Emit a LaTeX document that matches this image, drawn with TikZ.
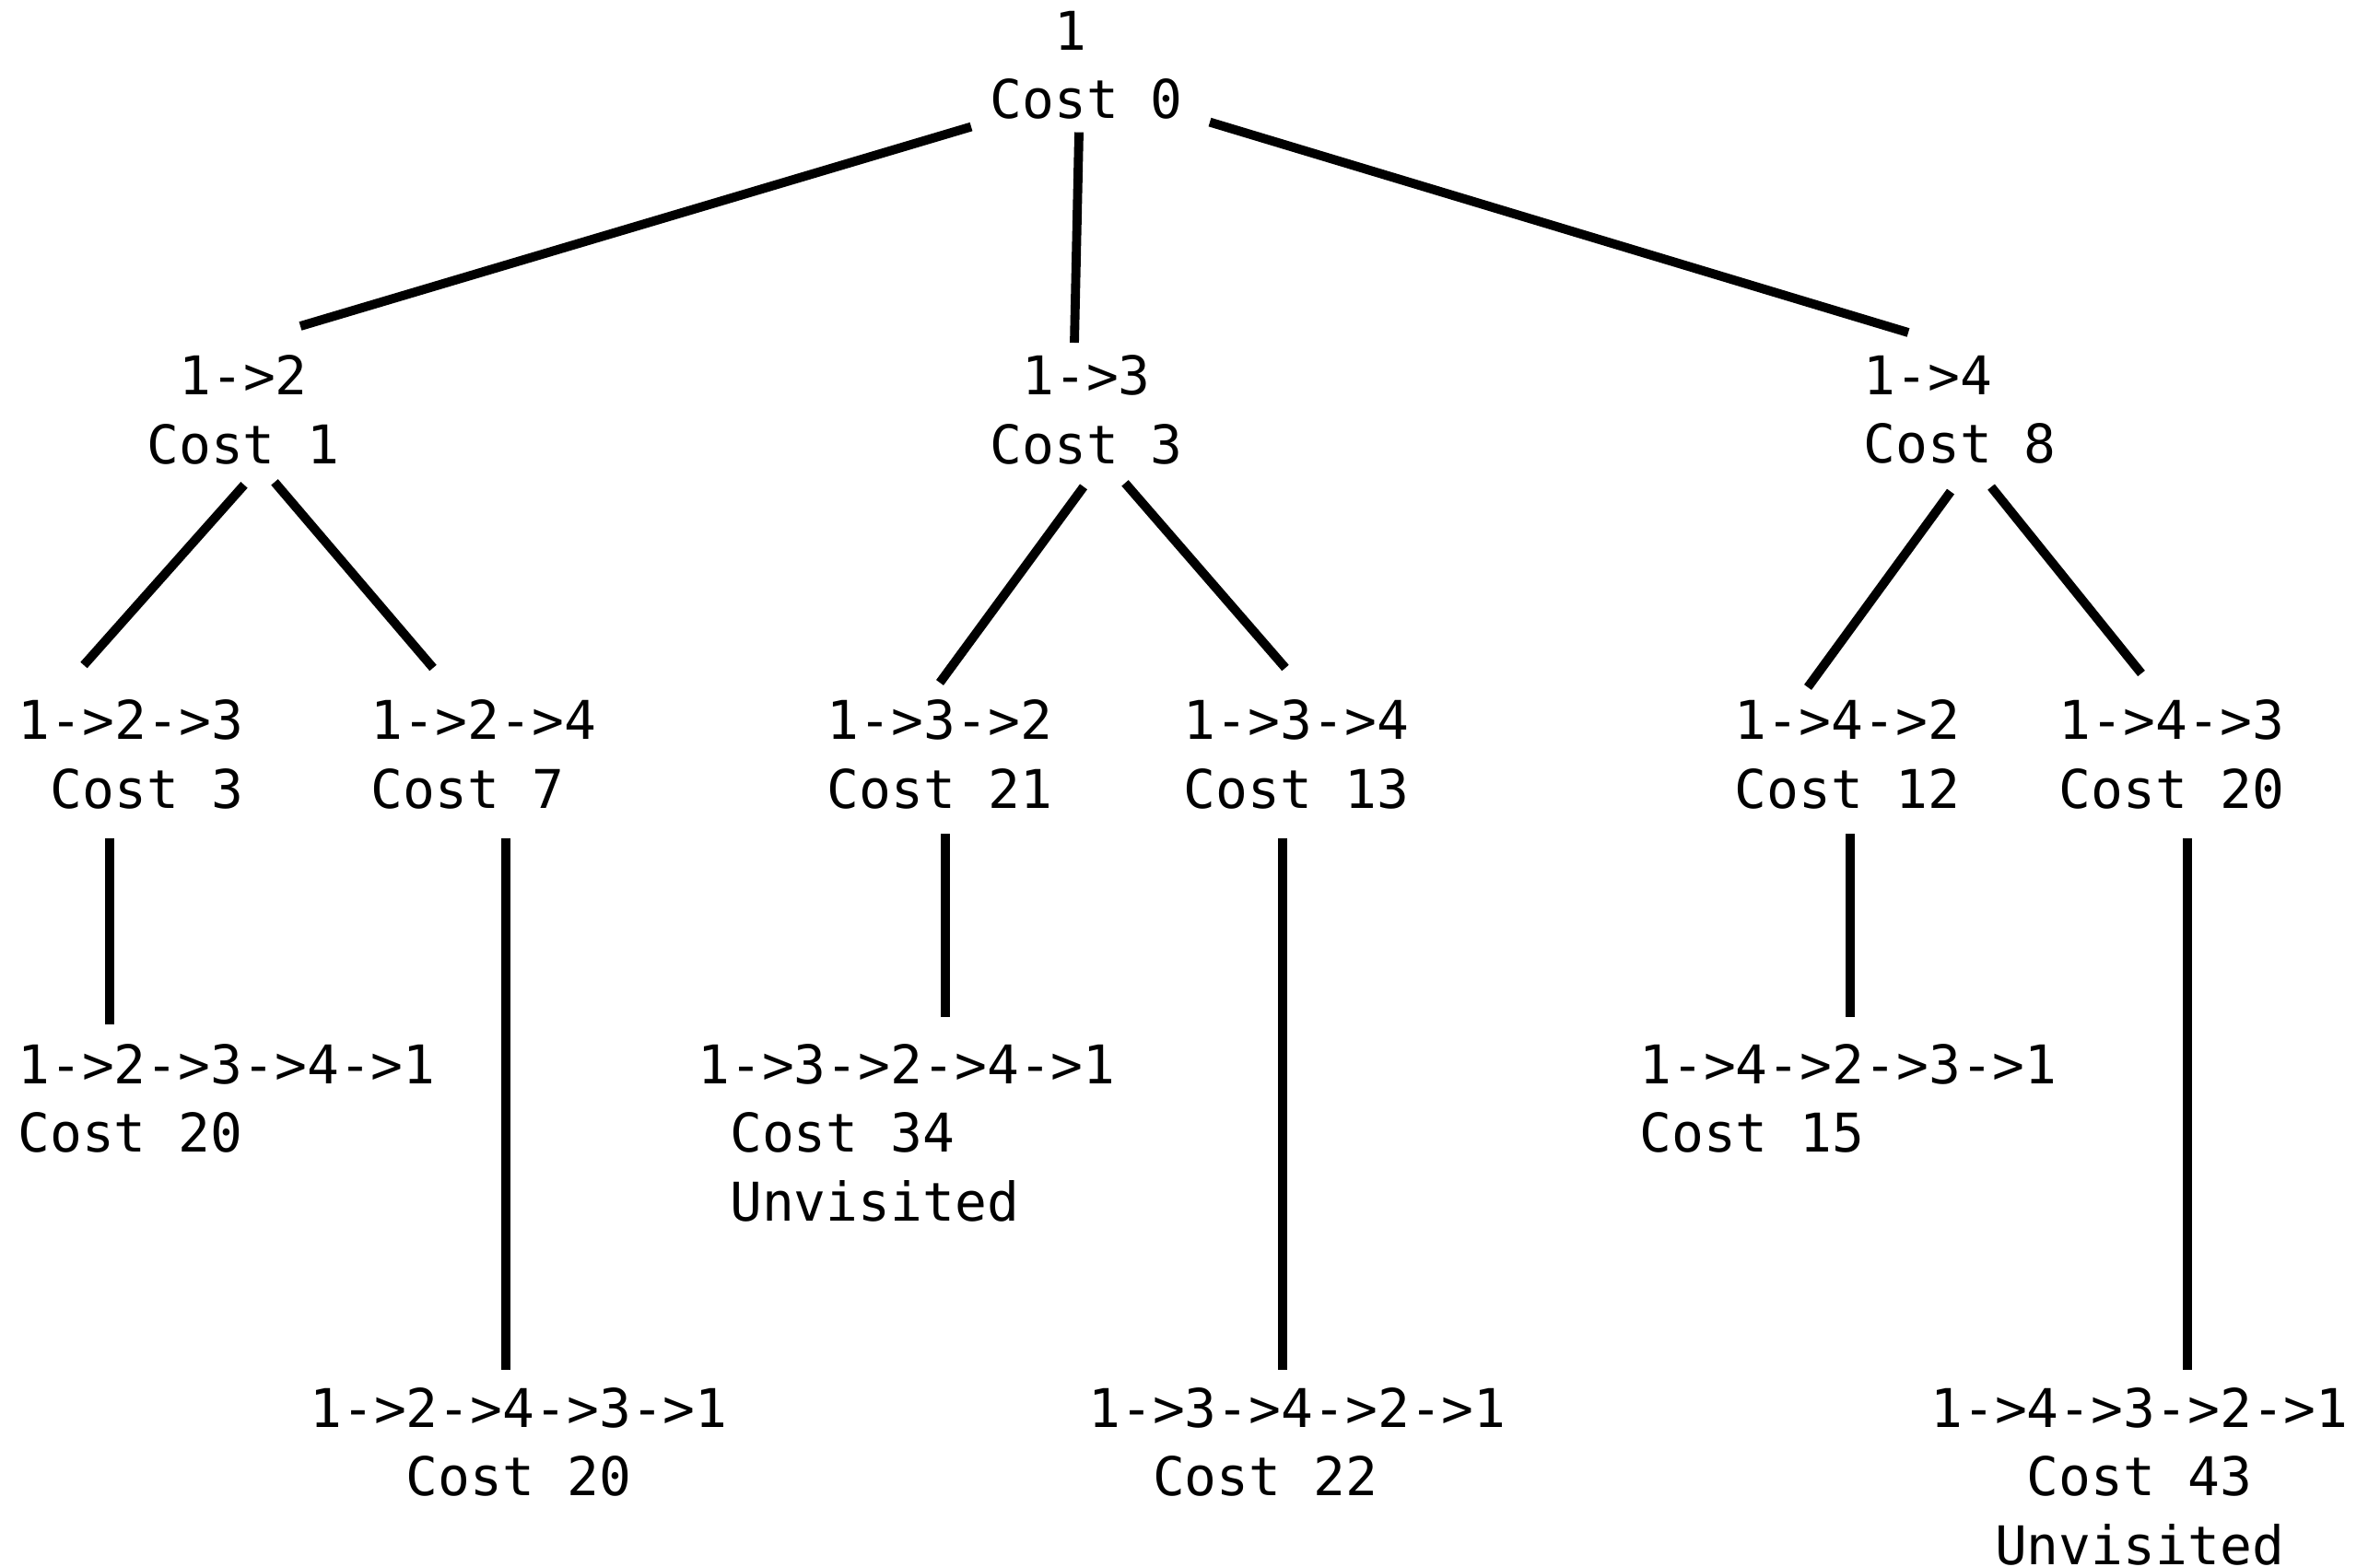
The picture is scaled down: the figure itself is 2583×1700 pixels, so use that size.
\documentclass[tikz,border=0pt]{standalone}
\usepackage{fontspec}
\newfontfamily\treefont{DejaVu Sans Mono}
\begin{document}
\begin{tikzpicture}[x=0.01cm,y=-0.01cm,
  state/.style={inner sep=0pt,outer sep=0pt,anchor=north,
    font=\treefont\fontsize{16.47pt}{21.2pt}\selectfont},
  branch/.style={line width=2.8pt,black}]
\useasboundingbox (0,0) rectangle (2583,1700);

% level 0
\node[state,align=center] (root) at (1179,12) {1\hphantom{0}\\Cost 0};

% level 1
\node[state,align=center] (n12) at (264,386)  {1->2\\Cost 1};
\node[state,align=center] (n13) at (1179,386) {1->3\\Cost 3};
\node[state,align=left]   (n14) at (2127,386) {1->4\\Cost 8};

% level 2
\node[state,align=right] (n123) at (142,760)  {1->2->3\\Cost 3};
\node[state,align=left]  (n124) at (525,760)  {1->2->4\\Cost 7};
\node[state,align=left]  (n132) at (1020,760) {1->3->2\\Cost 21};
\node[state,align=left]  (n134) at (1407,760) {1->3->4\\Cost 13};
\node[state,align=left]  (n142) at (2005,760) {1->4->2\\Cost 12};
\node[state,align=left]  (n143) at (2357,760) {1->4->3\\Cost 20};

% level 3
\node[state,align=left] (n1234) at (246,1133)  {1->2->3->4->1\\Cost 20};
\node[state,align=left] (n1324) at (984,1133)  {1->3->2->4->1\\\hphantom{0}Cost 34\\\hphantom{0}Unvisited};
\node[state,align=left] (n1423) at (2006,1133) {1->4->2->3->1\\Cost 15};

% level 4
\node[state,align=center] (n1243) at (563,1506)  {1->2->4->3->1\\Cost 20};
\node[state,align=left]   (n1342) at (1408,1506) {1->3->4->2->1\\\hphantom{00}Cost 22};
\node[state,align=center] (n1432) at (2322,1506) {1->4->3->2->1\\Cost 43\\Unvisited};

% branches from the root
\draw[branch] ([shift={(-125,8)}]root.south) -- ([shift={(62,-32)}]n12.north);
\draw[branch] ([shift={(-8,14)}]root.south)  -- ([shift={(-13,-14)}]n13.north);
\draw[branch] ([shift={(134,3)}]root.south)  -- ([shift={(-56,-25)}]n14.north);

% branches from level 1
\draw[branch] ([shift={(1,22)}]n12.south)   -- ([shift={(-51,-38)}]n123.north);
\draw[branch] ([shift={(34,19)}]n12.south)  -- ([shift={(-55,-35)}]n124.north);
\draw[branch] ([shift={(-3,24)}]n13.south)  -- ([shift={(0,-19)}]n132.north);
\draw[branch] ([shift={(42,20)}]n13.south)  -- ([shift={(-12,-35)}]n134.north);
\draw[branch] ([shift={(-10,30)}]n14.south) -- ([shift={(-43,-14)}]n142.north);
\draw[branch] ([shift={(34,25)}]n14.south)  -- ([shift={(-33,-29)}]n143.north);

% branches from level 2
\draw[branch] ([shift={(-23,32)}]n123.south) -- ([shift={(-127,-21)}]n1234.north);
\draw[branch] ([shift={(24,32)}]n124.south)  -- ([shift={(-14,-19)}]n1243.north);
\draw[branch] ([shift={(6,27)}]n132.south)   -- ([shift={(42,-29)}]n1324.north);
\draw[branch] ([shift={(-15,32)}]n134.south) -- ([shift={(-16,-19)}]n1342.north);
\draw[branch] ([shift={(3,27)}]n142.south)   -- ([shift={(2,-29)}]n1423.north);
\draw[branch] ([shift={(17,32)}]n143.south)  -- ([shift={(52,-19)}]n1432.north);
\end{tikzpicture}
\end{document}
